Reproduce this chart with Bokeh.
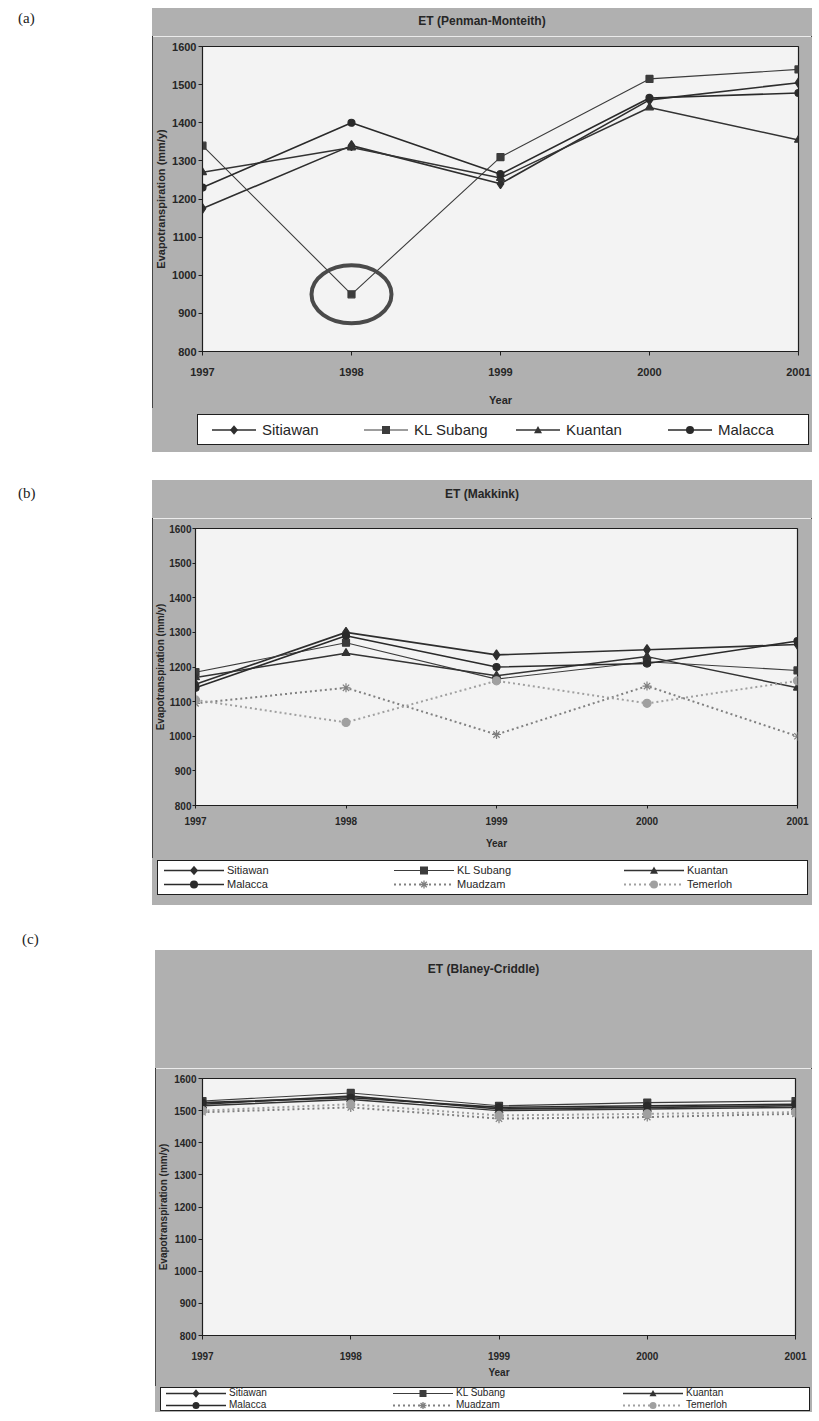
from bokeh.plotting import figure
from bokeh.models import Div, Range1d, FixedTicker, Spacer
from bokeh.layouts import column, row
from bokeh.embed import file_html
from bokeh.resources import INLINE

# ---------------- data ----------------
years = [1997, 1998, 1999, 2000, 2001]
y_ticks = [800, 900, 1000, 1100, 1200, 1300, 1400, 1500, 1600]

# (a) ET (Penman-Monteith)
pm_names = ["Sitiawan", "KL Subang", "Kuantan", "Malacca"]
pm_sitiawan = [1175, 1340, 1240, 1460, 1505]
pm_kl_subang = [1340, 950, 1310, 1515, 1540]
pm_kuantan = [1270, 1335, 1255, 1440, 1355]
pm_malacca = [1230, 1400, 1265, 1465, 1478]

# (b) ET (Makkink)
mk_names = ["Sitiawan", "KL Subang", "Kuantan", "Malacca", "Muadzam", "Temerloh"]
mk_sitiawan = [1150, 1300, 1235, 1250, 1265]
mk_kl_subang = [1185, 1270, 1165, 1215, 1190]
mk_kuantan = [1170, 1240, 1175, 1230, 1140]
mk_malacca = [1140, 1290, 1200, 1210, 1275]
mk_muadzam = [1095, 1140, 1005, 1145, 1000]
mk_temerloh = [1105, 1040, 1160, 1095, 1160]

# (c) ET (Blaney-Criddle)
bc_names = ["Sitiawan", "KL Subang", "Kuantan", "Malacca", "Muadzam", "Temerloh"]
bc_sitiawan = [1520, 1545, 1505, 1510, 1515]
bc_kl_subang = [1530, 1555, 1515, 1525, 1530]
bc_kuantan = [1515, 1535, 1500, 1505, 1510]
bc_malacca = [1525, 1540, 1510, 1515, 1520]
bc_muadzam = [1495, 1510, 1475, 1480, 1490]
bc_temerloh = [1500, 1520, 1485, 1490, 1495]

# ---------------- styles ----------------
STYLE = {
    "Sitiawan": dict(marker="diamond", size=10, color="#2e2e2e", lw=1.6, dash="solid"),
    "KL Subang": dict(marker="square", size=7, color="#3c3c3c", lw=1.1, dash="solid"),
    "Kuantan": dict(marker="triangle", size=8, color="#333333", lw=1.5, dash="solid"),
    "Malacca": dict(marker="circle", size=7, color="#2a2a2a", lw=1.6, dash="solid"),
    "Muadzam": dict(marker="asterisk", size=9, color="#808080", lw=2, dash="2 3"),
    "Temerloh": dict(marker="circle", size=8, color="#a0a0a0", lw=2, dash="2 3"),
}

FONT = "Liberation Sans"
TXT = "#262626"
GREY = "#b0b0b0"
PLOT_BG = "#f3f3f3"


def title_div(text, width, height, top):
    return Div(text=text, width=width, height=height, margin=0,
               styles={"background-color": GREY, "text-align": "center",
                       "font-family": FONT, "font-weight": "bold", "font-size": "12px",
                       "color": TXT, "padding-top": f"{top}px", "box-sizing": "border-box"})


def main_fig(names, series, width, height, borders, font_px, cfg, highlight=None):
    p = figure(width=width, height=height, output_backend="svg", toolbar_location=None,
               x_range=Range1d(years[0], years[-1]), y_range=Range1d(y_ticks[0], y_ticks[-1]),
               min_border_left=borders[0], min_border_right=borders[1],
               min_border_top=borders[2], min_border_bottom=borders[3])
    p.border_fill_color = GREY
    p.background_fill_color = PLOT_BG
    p.outline_line_color = "#1e1e1e"
    p.outline_line_width = 1.2
    p.grid.grid_line_color = None

    p.xaxis.ticker = FixedTicker(ticks=years)
    p.yaxis.ticker = FixedTicker(ticks=y_ticks)
    p.xaxis.axis_label = "Year"
    p.yaxis.axis_label = "Evapotranspiration (mm/y)"
    for ax in (p.xaxis[0], p.yaxis[0]):
        ax.major_label_text_font = FONT
        ax.major_label_text_font_style = "bold"
        ax.major_label_text_font_size = f"{font_px}px"
        ax.major_label_text_color = TXT
        ax.axis_label_text_font = FONT
        ax.axis_label_text_font_style = "bold"
        ax.axis_label_text_font_size = f"{cfg.get('label_px', font_px)}px"
        ax.axis_label_text_color = TXT
        ax.minor_tick_line_color = None
        ax.major_tick_in = 0
        ax.major_tick_out = cfg.get("tick_out", 4)
        ax.axis_line_color = "#1e1e1e"
        ax.major_tick_line_color = "#1e1e1e"
    p.yaxis.major_label_standoff = cfg.get("y_standoff", 2)
    p.yaxis.axis_label_standoff = cfg.get("y_label_standoff", 2)
    p.xaxis.major_label_standoff = cfg["x_standoff"]
    p.xaxis.axis_label_standoff = cfg["x_label_standoff"]

    for name, vals in zip(names, series):
        st = STYLE[name]
        p.line(years, vals, line_color=st["color"], line_width=st["lw"], line_dash=st["dash"])
        p.scatter(years, vals, marker=st["marker"], size=st["size"],
                  fill_color=st["color"], line_color=st["color"], line_width=1.2)

    if highlight is not None:
        hx, hy = highlight
        p.ellipse(x=[hx], y=[hy], width=80, height=58, width_units="screen",
                  height_units="screen", fill_color=None, line_color="#4a4a4a",
                  line_width=4)
    return p


def swatch_svg(name, w, h, msize):
    st = STYLE[name]
    c = st["color"]
    cy = h / 2
    cx = w / 2
    r = msize / 2
    dash = ' stroke-dasharray="2 3"' if st["dash"] != "solid" else ""
    parts = [f'<line x1="0" y1="{cy}" x2="{w}" y2="{cy}" stroke="{c}" '
             f'stroke-width="{st["lw"]}"{dash}/>']
    m = st["marker"]
    if m == "diamond":
        pts = f"{cx},{cy - r * 1.2} {cx + r},{cy} {cx},{cy + r * 1.2} {cx - r},{cy}"
        parts.append(f'<polygon points="{pts}" fill="{c}"/>')
    elif m == "square":
        parts.append(f'<rect x="{cx - r}" y="{cy - r}" width="{2 * r}" height="{2 * r}" fill="{c}"/>')
    elif m == "triangle":
        pts = f"{cx},{cy - r} {cx + r},{cy + r * 0.8} {cx - r},{cy + r * 0.8}"
        parts.append(f'<polygon points="{pts}" fill="{c}"/>')
    elif m == "circle":
        parts.append(f'<circle cx="{cx}" cy="{cy}" r="{r}" fill="{c}"/>')
    elif m == "asterisk":
        d = r * 0.7
        parts.append(f'<path d="M{cx},{cy - r}V{cy + r}M{cx - r},{cy}H{cx + r}'
                     f'M{cx - d},{cy - d}L{cx + d},{cy + d}M{cx - d},{cy + d}L{cx + d},{cy - d}" '
                     f'stroke="{c}" stroke-width="1.3"/>')
    return f'<svg width="{w}" height="{h}" style="display:block">{"".join(parts)}</svg>'


def legend_div(names, width, height, box, cols, cfg):
    left, top, bw, bh = box
    items = []
    for name in names:
        items.append(
            f'<div style="display:flex;align-items:center;height:{cfg["row_h"]}px">'
            f'{swatch_svg(name, cfg["glyph_w"], cfg["row_h"], cfg["msize"])}'
            f'<span style="margin-left:{cfg["standoff"]}px;font-family:{FONT};'
            f'font-size:{cfg["font_px"]}px;color:{TXT};white-space:nowrap;line-height:1">{name}</span></div>')
    grid_cols = " ".join(f"{c}px" for c in cols)
    html = (f'<div style="margin:{top}px 0 0 {left}px;width:{bw}px;height:{bh}px;'
            f'box-sizing:border-box;border:1px solid #1e1e1e;background:white;'
            f'display:grid;grid-template-columns:{grid_cols};grid-auto-rows:{cfg["row_h"]}px;'
            f'row-gap:{cfg["gap"]}px;align-content:center;padding-left:{cfg["pad"]}px">'
            f'{"".join(items)}</div>')
    return Div(text=html, width=width, height=height, margin=0,
               styles={"background-color": GREY})


def chart(parts):
    return column(*parts, spacing=0,
                  styles={"outline": "1px solid #222", "outline-offset": "-1px"})


def panel_label(text, width, height, top, left):
    return Div(text=text, width=width, height=height, margin=0,
               styles={"font-family": "Liberation Serif", "font-size": "15px",
                       "color": "#222", "padding-left": f"{left}px",
                       "padding-top": f"{top}px", "box-sizing": "border-box"})


# ---- (a) ----
a_title = title_div("ET (Penman-Monteith)", 660, 28, 5)
a_main = main_fig(pm_names, [pm_sitiawan, pm_kl_subang, pm_kuantan, pm_malacca],
                  660, 372, (48, 14, 10, 57), 11,
                  dict(x_standoff=12, x_label_standoff=15),
                  highlight=(years[1], pm_kl_subang[1]))
a_leg = legend_div(pm_names, 660, 44, (45, 6, 612, 31), [152, 152, 152, 140],
                   dict(glyph_w=44, row_h=16, standoff=6, font_px=15, msize=8,
                        gap=0, pad=14))

# ---- (b) ----
b_title = title_div("ET (Makkink)", 660, 38, 6)
b_main = main_fig(mk_names, [mk_sitiawan, mk_kl_subang, mk_kuantan, mk_malacca,
                             mk_muadzam, mk_temerloh],
                  660, 340, (38, 15, 10, 53), 10,
                  dict(x_standoff=8, x_label_standoff=10, label_px=10, tick_out=3,
                       y_standoff=1, y_label_standoff=0))
b_leg = legend_div(mk_names, 660, 47, (5, 2, 651, 35), [230, 230, 185],
                   dict(glyph_w=60, row_h=13, standoff=3, font_px=11, msize=8,
                        gap=1, pad=6))

# ---- (c) ----
c_title = title_div("ET (Blaney-Criddle)", 657, 118, 11)
c_main = main_fig(bc_names, [bc_sitiawan, bc_kl_subang, bc_kuantan, bc_malacca,
                             bc_muadzam, bc_temerloh],
                  657, 318, (43, 17, 10, 51), 10,
                  dict(x_standoff=12, x_label_standoff=4))
c_leg = legend_div(bc_names, 657, 26, (5, 1, 650, 24), [227, 230, 188],
                   dict(glyph_w=60, row_h=11, standoff=3, font_px=10, msize=7,
                        gap=1, pad=5))

layout = column(
    Spacer(width=10, height=8),
    row(panel_label("(a)", 152, 444, 0, 18), chart([a_title, a_main, a_leg])),
    Spacer(width=10, height=28),
    row(panel_label("(b)", 152, 425, 3, 18), chart([b_title, b_main, b_leg])),
    panel_label("(c)", 152, 45, 24, 22),
    row(Spacer(width=155, height=462), chart([c_title, c_main, c_leg])),
    spacing=0,
)

open("out.html", "w").write(file_html(layout, INLINE))
